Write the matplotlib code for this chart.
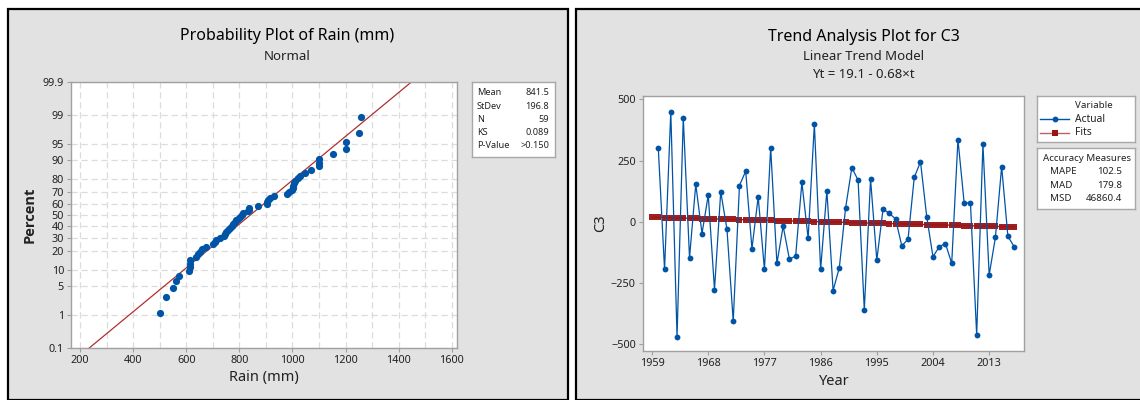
from statistics import NormalDist
import numpy as np
import matplotlib
matplotlib.use('Agg')
import matplotlib.pyplot as plt
from matplotlib.patches import Rectangle
from matplotlib.lines import Line2D

plt.rcParams['font.family'] = ['Noto Sans', 'DejaVu Sans']

# ---- data: probability plot (rain, mm), sorted
rain = [500, 525, 552, 560, 573, 612, 613, 614, 616, 638,
        645, 652, 659, 673, 700, 707, 714, 727, 741, 745,
        751, 759, 764, 773, 778, 782, 786, 796, 803, 810,
        814, 834, 837, 838, 871, 903, 905, 909, 915, 929,
        981, 988, 999, 1001, 1003, 1005, 1011, 1022, 1029, 1049,
        1070, 1101, 1101, 1101, 1152, 1200, 1203, 1252, 1259]
rain_mean = 841.5
rain_sd = 196.8
stat_labels = ['Mean', 'StDev', 'N', 'KS', 'P-Value']
stat_values = ['841.5', '196.8', '59', '0.089', '>0.150']
pct_ticks = [0.1, 1, 5, 10, 20, 30, 40, 50, 60, 70, 80, 90, 95, 99, 99.9]
pct_labels = ['0.1', '1', '5', '10', '20', '30', '40', '50', '60', '70',
              '80', '90', '95', '99', '99.9']

# ---- data: trend analysis (C3)
years_actual = list(range(1960, 2018))
c3 = [300, -195, 450, -470, 425, -147, 153, -48, 109, -277,
      123, -31, -406, 148, 207, -110, 102, -195, 302, -170,
      -18, -153, -140, 161, -68, 399, -195, 127, -281, -187,
      56, 221, 170, -360, 174, -157, 52, 34, 12, -98,
      -72, 181, 245, 20, -143, -102, -89, -170, 336, 75,
      78, -463, 317, -218, -64, 225, -59, -102]
years_fit = list(range(1959, 2018))
fits = [18.42, 17.74, 17.06, 16.38, 15.70, 15.02, 14.34, 13.66, 12.98, 12.30,
        11.62, 10.94, 10.26, 9.58, 8.90, 8.22, 7.54, 6.86, 6.18, 5.50,
        4.82, 4.14, 3.46, 2.78, 2.10, 1.42, 0.74, 0.06, -0.62, -1.30,
        -1.98, -2.66, -3.34, -4.02, -4.70, -5.38, -6.06, -6.74, -7.42, -8.10,
        -8.78, -9.46, -10.14, -10.82, -11.50, -12.18, -12.86, -13.54, -14.22, -14.90,
        -15.58, -16.26, -16.94, -17.62, -18.30, -18.98, -19.66, -20.34, -21.02]
year_ticks = [1959, 1968, 1977, 1986, 1995, 2004, 2013]
acc_labels = ['MAPE', 'MAD', 'MSD']
acc_values = ['102.5', '179.8', '46860.4']

W, H = 1140, 400
BLUE = '#0054a6'
DARKRED = '#9a1414'
PANEL = '#e2e2e2'
TXT = '#222222'


def fx(px):
    return px / W


def fy(py):
    return 1 - py / H


def box_axes(fig, x0, y0, x1, y1):
    # white framed box in pixel coords (top-left origin)
    a = fig.add_axes([fx(x0), fy(y1), fx(x1 - x0), (y1 - y0) / H])
    a.set_xlim(0, x1 - x0)
    a.set_ylim(y1 - y0, 0)
    a.set_xticks([])
    a.set_yticks([])
    for s in a.spines.values():
        s.set_color('#a8a8a8')
        s.set_linewidth(1.0)
    return a


def style_axes(ax):
    for s in ax.spines.values():
        s.set_color('#a0a0a0')
        s.set_linewidth(1.0)
    ax.tick_params(direction='out', length=3, width=0.8, color='#a0a0a0',
                   labelsize=7.8, labelcolor=TXT, pad=2)


fig = plt.figure(figsize=(W / 100, H / 100), dpi=100)
fig.patch.set_facecolor('white')

# panels (behind the axes)
fig.patches.append(Rectangle((fx(8), 0), fx(560), fy(9), transform=fig.transFigure,
                             facecolor=PANEL, edgecolor='black', linewidth=1.6, zorder=-5))
fig.patches.append(Rectangle((fx(576), 0), fx(600), fy(9), transform=fig.transFigure,
                             facecolor=PANEL, edgecolor='black', linewidth=1.6, zorder=-5))

# ================= probability plot =================
nd = NormalDist()
ax1 = fig.add_axes([fx(71), fy(348.3), fx(386), 266.6 / H])
style_axes(ax1)
n = len(rain)
pp = [(i + 1 - 0.3) / (n + 0.4) for i in range(n)]
zz = [nd.inv_cdf(p) for p in pp]
zlim = nd.inv_cdf(0.999)
ax1.set_ylim(-zlim, zlim)
ax1.set_xlim(166, 1620)
ax1.set_yticks([nd.inv_cdf(p / 100) for p in pct_ticks])
ax1.set_yticklabels(pct_labels)
ax1.set_xticks(range(200, 1601, 200))
ax1.set_xticks(range(200, 1601, 100), minor=True)
ax1.tick_params(axis='x', which='minor', length=0)
ax1.grid(True, which='both', axis='x', color='#dcdcdc', linestyle=(0, (5, 3)), linewidth=0.9)
ax1.grid(True, which='major', axis='y', color='#dcdcdc', linestyle=(0, (5, 3)), linewidth=0.9)
ax1.set_axisbelow(True)
zline = np.array([-zlim, zlim])
ax1.plot(rain_mean + rain_sd * zline, zline, color='#b03030', linewidth=0.9)
ax1.plot(rain, zz, 'o', color=BLUE, markersize=5.2, markeredgewidth=0)

fig.text(fx(287), fy(36), 'Probability Plot of Rain (mm)', ha='center', va='center',
         fontsize=11.5, color='black')
fig.text(fx(287), fy(56), 'Normal', ha='center', va='center', fontsize=9.5, color=TXT)
fig.text(fx(264), fy(378), 'Rain (mm)', ha='center', va='center', fontsize=10.5, color=TXT)
fig.text(fx(30), fy(215), 'Percent', ha='center', va='center', fontsize=10.5,
         rotation=90, fontweight='bold', color=TXT, family=['Open Sans', 'DejaVu Sans'])

sb = box_axes(fig, 472, 81.7, 555, 157.3)
for k, (lab, val) in enumerate(zip(stat_labels, stat_values)):
    yy = 11 + k * 13.3
    sb.text(5, yy, lab, ha='left', va='center', fontsize=6.6, color=TXT)
    sb.text(77, yy, val, ha='right', va='center', fontsize=6.6, color=TXT)

# ================= trend analysis =================
ax2 = fig.add_axes([fx(642.7), fy(351), fx(380.8), 255.3 / H])
style_axes(ax2)
ax2.set_xlim(1957.5, 2018.5)
ax2.set_ylim(-528, 515)
ax2.set_xticks(year_ticks)
ax2.set_yticks([-500, -250, 0, 250, 500])
ax2.plot(years_fit, fits, color=DARKRED, marker='s', markersize=4.6,
         markeredgewidth=0, linewidth=1.0, alpha=0.95)
ax2.plot(years_actual, c3, color=BLUE, marker='o', markersize=4.2,
         markeredgewidth=0, linewidth=0.9)

fig.text(fx(863.5), fy(36.7), 'Trend Analysis Plot for C3', ha='center', va='center',
         fontsize=11.5, color='black')
fig.text(fx(863.5), fy(56), 'Linear Trend Model', ha='center', va='center',
         fontsize=9.5, color=TXT)
fig.text(fx(863.5), fy(74), 'Yt = 19.1 - 0.68\u00d7t', ha='center', va='center',
         fontsize=9.5, color=TXT)
fig.text(fx(834), fy(381.7), 'Year', ha='center', va='center', fontsize=10.5, color=TXT)
fig.text(fx(601), fy(222.7), 'C3', ha='center', va='center', fontsize=10.5,
         rotation=90, color=TXT)

lg = box_axes(fig, 1037, 95.7, 1135, 142)
lg.text(57, 9.5, 'Variable', ha='center', va='center', fontsize=7, color=TXT)
lg.add_line(Line2D([3, 18, 32], [23.5, 23.5, 23.5], color=BLUE, linewidth=1.0,
                   marker='o', markersize=4.2, markevery=[1], markeredgewidth=0))
lg.add_line(Line2D([3, 18, 32], [37, 37, 37], color='#c06060', linewidth=1.0,
                   marker='s', markersize=4.6, markevery=[1], markeredgewidth=0,
                   markerfacecolor=DARKRED))
lg.text(38, 23.5, 'Actual', ha='left', va='center', fontsize=7.4, color=TXT)
lg.text(38, 37, 'Fits', ha='left', va='center', fontsize=7.4, color=TXT)

ab = box_axes(fig, 1037, 147.7, 1135, 209)
ab.text(50, 10.5, 'Accuracy Measures', ha='center', va='center', fontsize=7, color=TXT)
for k, (lab, val) in enumerate(zip(acc_labels, acc_values)):
    yy = 24 + k * 13.3
    ab.text(13, yy, lab, ha='left', va='center', fontsize=7, color=TXT)
    ab.text(85, yy, val, ha='right', va='center', fontsize=7, color=TXT)

fig.savefig('out.png', dpi=100, facecolor='white')
